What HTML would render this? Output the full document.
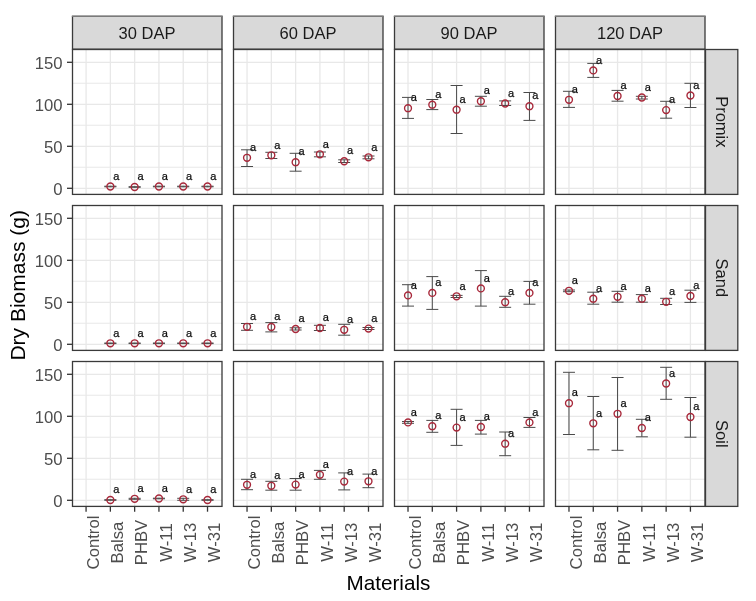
<!DOCTYPE html><html><head><meta charset="utf-8"><style>html,body{margin:0;padding:0;background:#fff;}svg{display:block;filter:blur(0.3px);}text{font-family:"Liberation Sans",sans-serif;}</style></head><body>
<svg width="756" height="601" viewBox="0 0 756 601">
<rect width="756" height="601" fill="#fff"/>
<line x1="72" x2="222" y1="167.30" y2="167.30" stroke="#e8e8e8" stroke-width="1.1"/>
<line x1="72" x2="222" y1="125.30" y2="125.30" stroke="#e8e8e8" stroke-width="1.1"/>
<line x1="72" x2="222" y1="83.30" y2="83.30" stroke="#e8e8e8" stroke-width="1.1"/>
<line x1="72" x2="222" y1="188.30" y2="188.30" stroke="#e8e8e8" stroke-width="1.3"/>
<line x1="72" x2="222" y1="146.30" y2="146.30" stroke="#e8e8e8" stroke-width="1.3"/>
<line x1="72" x2="222" y1="104.30" y2="104.30" stroke="#e8e8e8" stroke-width="1.3"/>
<line x1="72" x2="222" y1="62.30" y2="62.30" stroke="#e8e8e8" stroke-width="1.3"/>
<line x1="86.07" x2="86.07" y1="49" y2="194" stroke="#e8e8e8" stroke-width="1.3"/>
<line x1="110.36" x2="110.36" y1="49" y2="194" stroke="#e8e8e8" stroke-width="1.3"/>
<line x1="134.65" x2="134.65" y1="49" y2="194" stroke="#e8e8e8" stroke-width="1.3"/>
<line x1="158.94" x2="158.94" y1="49" y2="194" stroke="#e8e8e8" stroke-width="1.3"/>
<line x1="183.23" x2="183.23" y1="49" y2="194" stroke="#e8e8e8" stroke-width="1.3"/>
<line x1="207.52" x2="207.52" y1="49" y2="194" stroke="#e8e8e8" stroke-width="1.3"/>
<path d="M104.36 186.20H116.36M110.36 186.20V186.80M104.36 186.80H116.36" stroke="#4a4a4a" stroke-width="1.0" fill="none"/>
<circle cx="110.36" cy="186.50" r="3.45" fill="none" stroke="#a8283a" stroke-width="1.4"/>
<text x="116.26" y="179.70" font-size="11.0" fill="#111111" stroke="#111111" stroke-width="0.25" font-weight="normal" text-anchor="middle">a</text>
<path d="M128.65 186.70H140.65M134.65 186.70V187.30M128.65 187.30H140.65" stroke="#4a4a4a" stroke-width="1.0" fill="none"/>
<circle cx="134.65" cy="187.00" r="3.45" fill="none" stroke="#a8283a" stroke-width="1.4"/>
<text x="140.55" y="180.20" font-size="11.0" fill="#111111" stroke="#111111" stroke-width="0.25" font-weight="normal" text-anchor="middle">a</text>
<path d="M152.94 186.20H164.94M158.94 186.20V186.80M152.94 186.80H164.94" stroke="#4a4a4a" stroke-width="1.0" fill="none"/>
<circle cx="158.94" cy="186.50" r="3.45" fill="none" stroke="#a8283a" stroke-width="1.4"/>
<text x="164.84" y="179.70" font-size="11.0" fill="#111111" stroke="#111111" stroke-width="0.25" font-weight="normal" text-anchor="middle">a</text>
<path d="M177.23 186.20H189.23M183.23 186.20V186.80M177.23 186.80H189.23" stroke="#4a4a4a" stroke-width="1.0" fill="none"/>
<circle cx="183.23" cy="186.50" r="3.45" fill="none" stroke="#a8283a" stroke-width="1.4"/>
<text x="189.13" y="179.70" font-size="11.0" fill="#111111" stroke="#111111" stroke-width="0.25" font-weight="normal" text-anchor="middle">a</text>
<path d="M201.52 186.20H213.52M207.52 186.20V186.80M201.52 186.80H213.52" stroke="#4a4a4a" stroke-width="1.0" fill="none"/>
<circle cx="207.52" cy="186.50" r="3.45" fill="none" stroke="#a8283a" stroke-width="1.4"/>
<text x="213.42" y="179.70" font-size="11.0" fill="#111111" stroke="#111111" stroke-width="0.25" font-weight="normal" text-anchor="middle">a</text>
<rect x="72.5" y="49.5" width="149.5" height="144.9" fill="none" stroke="#3a3a3a" stroke-width="1.3"/>
<line x1="233" x2="383" y1="167.30" y2="167.30" stroke="#e8e8e8" stroke-width="1.1"/>
<line x1="233" x2="383" y1="125.30" y2="125.30" stroke="#e8e8e8" stroke-width="1.1"/>
<line x1="233" x2="383" y1="83.30" y2="83.30" stroke="#e8e8e8" stroke-width="1.1"/>
<line x1="233" x2="383" y1="188.30" y2="188.30" stroke="#e8e8e8" stroke-width="1.3"/>
<line x1="233" x2="383" y1="146.30" y2="146.30" stroke="#e8e8e8" stroke-width="1.3"/>
<line x1="233" x2="383" y1="104.30" y2="104.30" stroke="#e8e8e8" stroke-width="1.3"/>
<line x1="233" x2="383" y1="62.30" y2="62.30" stroke="#e8e8e8" stroke-width="1.3"/>
<line x1="247.04" x2="247.04" y1="49" y2="194" stroke="#e8e8e8" stroke-width="1.3"/>
<line x1="271.33" x2="271.33" y1="49" y2="194" stroke="#e8e8e8" stroke-width="1.3"/>
<line x1="295.62" x2="295.62" y1="49" y2="194" stroke="#e8e8e8" stroke-width="1.3"/>
<line x1="319.91" x2="319.91" y1="49" y2="194" stroke="#e8e8e8" stroke-width="1.3"/>
<line x1="344.20" x2="344.20" y1="49" y2="194" stroke="#e8e8e8" stroke-width="1.3"/>
<line x1="368.49" x2="368.49" y1="49" y2="194" stroke="#e8e8e8" stroke-width="1.3"/>
<path d="M241.04 149.80H253.04M247.04 149.80V166.50M241.04 166.50H253.04" stroke="#4a4a4a" stroke-width="1.0" fill="none"/>
<circle cx="247.04" cy="157.80" r="3.45" fill="none" stroke="#a8283a" stroke-width="1.4"/>
<text x="252.94" y="151.00" font-size="11.0" fill="#111111" stroke="#111111" stroke-width="0.25" font-weight="normal" text-anchor="middle">a</text>
<path d="M265.33 152.30H277.33M271.33 152.30V158.50M265.33 158.50H277.33" stroke="#4a4a4a" stroke-width="1.0" fill="none"/>
<circle cx="271.33" cy="155.30" r="3.45" fill="none" stroke="#a8283a" stroke-width="1.4"/>
<text x="277.23" y="148.50" font-size="11.0" fill="#111111" stroke="#111111" stroke-width="0.25" font-weight="normal" text-anchor="middle">a</text>
<path d="M289.62 153.30H301.62M295.62 153.30V171.20M289.62 171.20H301.62" stroke="#4a4a4a" stroke-width="1.0" fill="none"/>
<circle cx="295.62" cy="162.20" r="3.45" fill="none" stroke="#a8283a" stroke-width="1.4"/>
<text x="301.52" y="155.40" font-size="11.0" fill="#111111" stroke="#111111" stroke-width="0.25" font-weight="normal" text-anchor="middle">a</text>
<path d="M313.91 152.00H325.91M319.91 152.00V156.80M313.91 156.80H325.91" stroke="#4a4a4a" stroke-width="1.0" fill="none"/>
<circle cx="319.91" cy="154.30" r="3.45" fill="none" stroke="#a8283a" stroke-width="1.4"/>
<text x="325.81" y="147.50" font-size="11.0" fill="#111111" stroke="#111111" stroke-width="0.25" font-weight="normal" text-anchor="middle">a</text>
<path d="M338.20 159.80H350.20M344.20 159.80V162.50M338.20 162.50H350.20" stroke="#4a4a4a" stroke-width="1.0" fill="none"/>
<circle cx="344.20" cy="161.25" r="3.45" fill="none" stroke="#a8283a" stroke-width="1.4"/>
<text x="350.10" y="154.45" font-size="11.0" fill="#111111" stroke="#111111" stroke-width="0.25" font-weight="normal" text-anchor="middle">a</text>
<path d="M362.49 156.00H374.49M368.49 156.00V158.80M362.49 158.80H374.49" stroke="#4a4a4a" stroke-width="1.0" fill="none"/>
<circle cx="368.49" cy="157.30" r="3.45" fill="none" stroke="#a8283a" stroke-width="1.4"/>
<text x="374.39" y="150.50" font-size="11.0" fill="#111111" stroke="#111111" stroke-width="0.25" font-weight="normal" text-anchor="middle">a</text>
<rect x="233.5" y="49.5" width="149.5" height="144.9" fill="none" stroke="#3a3a3a" stroke-width="1.3"/>
<line x1="394" x2="544" y1="167.30" y2="167.30" stroke="#e8e8e8" stroke-width="1.1"/>
<line x1="394" x2="544" y1="125.30" y2="125.30" stroke="#e8e8e8" stroke-width="1.1"/>
<line x1="394" x2="544" y1="83.30" y2="83.30" stroke="#e8e8e8" stroke-width="1.1"/>
<line x1="394" x2="544" y1="188.30" y2="188.30" stroke="#e8e8e8" stroke-width="1.3"/>
<line x1="394" x2="544" y1="146.30" y2="146.30" stroke="#e8e8e8" stroke-width="1.3"/>
<line x1="394" x2="544" y1="104.30" y2="104.30" stroke="#e8e8e8" stroke-width="1.3"/>
<line x1="394" x2="544" y1="62.30" y2="62.30" stroke="#e8e8e8" stroke-width="1.3"/>
<line x1="408.01" x2="408.01" y1="49" y2="194" stroke="#e8e8e8" stroke-width="1.3"/>
<line x1="432.30" x2="432.30" y1="49" y2="194" stroke="#e8e8e8" stroke-width="1.3"/>
<line x1="456.59" x2="456.59" y1="49" y2="194" stroke="#e8e8e8" stroke-width="1.3"/>
<line x1="480.88" x2="480.88" y1="49" y2="194" stroke="#e8e8e8" stroke-width="1.3"/>
<line x1="505.17" x2="505.17" y1="49" y2="194" stroke="#e8e8e8" stroke-width="1.3"/>
<line x1="529.46" x2="529.46" y1="49" y2="194" stroke="#e8e8e8" stroke-width="1.3"/>
<path d="M402.01 97.40H414.01M408.01 97.40V118.40M402.01 118.40H414.01" stroke="#4a4a4a" stroke-width="1.0" fill="none"/>
<circle cx="408.01" cy="108.20" r="3.45" fill="none" stroke="#a8283a" stroke-width="1.4"/>
<text x="413.91" y="101.40" font-size="11.0" fill="#111111" stroke="#111111" stroke-width="0.25" font-weight="normal" text-anchor="middle">a</text>
<path d="M426.30 99.50H438.30M432.30 99.50V109.60M426.30 109.60H438.30" stroke="#4a4a4a" stroke-width="1.0" fill="none"/>
<circle cx="432.30" cy="104.70" r="3.45" fill="none" stroke="#a8283a" stroke-width="1.4"/>
<text x="438.20" y="97.90" font-size="11.0" fill="#111111" stroke="#111111" stroke-width="0.25" font-weight="normal" text-anchor="middle">a</text>
<path d="M450.59 85.50H462.59M456.59 85.50V133.50M450.59 133.50H462.59" stroke="#4a4a4a" stroke-width="1.0" fill="none"/>
<circle cx="456.59" cy="109.70" r="3.45" fill="none" stroke="#a8283a" stroke-width="1.4"/>
<text x="462.49" y="102.90" font-size="11.0" fill="#111111" stroke="#111111" stroke-width="0.25" font-weight="normal" text-anchor="middle">a</text>
<path d="M474.88 96.30H486.88M480.88 96.30V106.20M474.88 106.20H486.88" stroke="#4a4a4a" stroke-width="1.0" fill="none"/>
<circle cx="480.88" cy="101.20" r="3.45" fill="none" stroke="#a8283a" stroke-width="1.4"/>
<text x="486.78" y="94.40" font-size="11.0" fill="#111111" stroke="#111111" stroke-width="0.25" font-weight="normal" text-anchor="middle">a</text>
<path d="M499.17 100.90H511.17M505.17 100.90V105.50M499.17 105.50H511.17" stroke="#4a4a4a" stroke-width="1.0" fill="none"/>
<circle cx="505.17" cy="103.50" r="3.45" fill="none" stroke="#a8283a" stroke-width="1.4"/>
<text x="511.07" y="96.70" font-size="11.0" fill="#111111" stroke="#111111" stroke-width="0.25" font-weight="normal" text-anchor="middle">a</text>
<path d="M523.46 92.50H535.46M529.46 92.50V120.40M523.46 120.40H535.46" stroke="#4a4a4a" stroke-width="1.0" fill="none"/>
<circle cx="529.46" cy="106.20" r="3.45" fill="none" stroke="#a8283a" stroke-width="1.4"/>
<text x="535.36" y="99.40" font-size="11.0" fill="#111111" stroke="#111111" stroke-width="0.25" font-weight="normal" text-anchor="middle">a</text>
<rect x="394.5" y="49.5" width="149.5" height="144.9" fill="none" stroke="#3a3a3a" stroke-width="1.3"/>
<line x1="555" x2="705" y1="167.30" y2="167.30" stroke="#e8e8e8" stroke-width="1.1"/>
<line x1="555" x2="705" y1="125.30" y2="125.30" stroke="#e8e8e8" stroke-width="1.1"/>
<line x1="555" x2="705" y1="83.30" y2="83.30" stroke="#e8e8e8" stroke-width="1.1"/>
<line x1="555" x2="705" y1="188.30" y2="188.30" stroke="#e8e8e8" stroke-width="1.3"/>
<line x1="555" x2="705" y1="146.30" y2="146.30" stroke="#e8e8e8" stroke-width="1.3"/>
<line x1="555" x2="705" y1="104.30" y2="104.30" stroke="#e8e8e8" stroke-width="1.3"/>
<line x1="555" x2="705" y1="62.30" y2="62.30" stroke="#e8e8e8" stroke-width="1.3"/>
<line x1="568.98" x2="568.98" y1="49" y2="194" stroke="#e8e8e8" stroke-width="1.3"/>
<line x1="593.27" x2="593.27" y1="49" y2="194" stroke="#e8e8e8" stroke-width="1.3"/>
<line x1="617.56" x2="617.56" y1="49" y2="194" stroke="#e8e8e8" stroke-width="1.3"/>
<line x1="641.85" x2="641.85" y1="49" y2="194" stroke="#e8e8e8" stroke-width="1.3"/>
<line x1="666.14" x2="666.14" y1="49" y2="194" stroke="#e8e8e8" stroke-width="1.3"/>
<line x1="690.43" x2="690.43" y1="49" y2="194" stroke="#e8e8e8" stroke-width="1.3"/>
<path d="M562.98 91.30H574.98M568.98 91.30V107.40M562.98 107.40H574.98" stroke="#4a4a4a" stroke-width="1.0" fill="none"/>
<circle cx="568.98" cy="99.80" r="3.45" fill="none" stroke="#a8283a" stroke-width="1.4"/>
<text x="574.88" y="93.00" font-size="11.0" fill="#111111" stroke="#111111" stroke-width="0.25" font-weight="normal" text-anchor="middle">a</text>
<path d="M587.27 63.40H599.27M593.27 63.40V77.40M587.27 77.40H599.27" stroke="#4a4a4a" stroke-width="1.0" fill="none"/>
<circle cx="593.27" cy="70.40" r="3.45" fill="none" stroke="#a8283a" stroke-width="1.4"/>
<text x="599.17" y="63.60" font-size="11.0" fill="#111111" stroke="#111111" stroke-width="0.25" font-weight="normal" text-anchor="middle">a</text>
<path d="M611.56 90.40H623.56M617.56 90.40V101.20M611.56 101.20H623.56" stroke="#4a4a4a" stroke-width="1.0" fill="none"/>
<circle cx="617.56" cy="96.00" r="3.45" fill="none" stroke="#a8283a" stroke-width="1.4"/>
<text x="623.46" y="89.20" font-size="11.0" fill="#111111" stroke="#111111" stroke-width="0.25" font-weight="normal" text-anchor="middle">a</text>
<path d="M635.85 96.30H647.85M641.85 96.30V99.00M635.85 99.00H647.85" stroke="#4a4a4a" stroke-width="1.0" fill="none"/>
<circle cx="641.85" cy="97.50" r="3.45" fill="none" stroke="#a8283a" stroke-width="1.4"/>
<text x="647.75" y="90.70" font-size="11.0" fill="#111111" stroke="#111111" stroke-width="0.25" font-weight="normal" text-anchor="middle">a</text>
<path d="M660.14 101.30H672.14M666.14 101.30V118.20M660.14 118.20H672.14" stroke="#4a4a4a" stroke-width="1.0" fill="none"/>
<circle cx="666.14" cy="110.10" r="3.45" fill="none" stroke="#a8283a" stroke-width="1.4"/>
<text x="672.04" y="103.30" font-size="11.0" fill="#111111" stroke="#111111" stroke-width="0.25" font-weight="normal" text-anchor="middle">a</text>
<path d="M684.43 83.30H696.43M690.43 83.30V107.50M684.43 107.50H696.43" stroke="#4a4a4a" stroke-width="1.0" fill="none"/>
<circle cx="690.43" cy="95.50" r="3.45" fill="none" stroke="#a8283a" stroke-width="1.4"/>
<text x="696.33" y="88.70" font-size="11.0" fill="#111111" stroke="#111111" stroke-width="0.25" font-weight="normal" text-anchor="middle">a</text>
<rect x="555.5" y="49.5" width="149.5" height="144.9" fill="none" stroke="#3a3a3a" stroke-width="1.3"/>
<line x1="72" x2="222" y1="323.30" y2="323.30" stroke="#e8e8e8" stroke-width="1.1"/>
<line x1="72" x2="222" y1="281.30" y2="281.30" stroke="#e8e8e8" stroke-width="1.1"/>
<line x1="72" x2="222" y1="239.30" y2="239.30" stroke="#e8e8e8" stroke-width="1.1"/>
<line x1="72" x2="222" y1="344.30" y2="344.30" stroke="#e8e8e8" stroke-width="1.3"/>
<line x1="72" x2="222" y1="302.30" y2="302.30" stroke="#e8e8e8" stroke-width="1.3"/>
<line x1="72" x2="222" y1="260.30" y2="260.30" stroke="#e8e8e8" stroke-width="1.3"/>
<line x1="72" x2="222" y1="218.30" y2="218.30" stroke="#e8e8e8" stroke-width="1.3"/>
<line x1="86.07" x2="86.07" y1="205" y2="350" stroke="#e8e8e8" stroke-width="1.3"/>
<line x1="110.36" x2="110.36" y1="205" y2="350" stroke="#e8e8e8" stroke-width="1.3"/>
<line x1="134.65" x2="134.65" y1="205" y2="350" stroke="#e8e8e8" stroke-width="1.3"/>
<line x1="158.94" x2="158.94" y1="205" y2="350" stroke="#e8e8e8" stroke-width="1.3"/>
<line x1="183.23" x2="183.23" y1="205" y2="350" stroke="#e8e8e8" stroke-width="1.3"/>
<line x1="207.52" x2="207.52" y1="205" y2="350" stroke="#e8e8e8" stroke-width="1.3"/>
<path d="M104.36 343.00H116.36M110.36 343.00V343.60M104.36 343.60H116.36" stroke="#4a4a4a" stroke-width="1.0" fill="none"/>
<circle cx="110.36" cy="343.30" r="3.45" fill="none" stroke="#a8283a" stroke-width="1.4"/>
<text x="116.26" y="336.50" font-size="11.0" fill="#111111" stroke="#111111" stroke-width="0.25" font-weight="normal" text-anchor="middle">a</text>
<path d="M128.65 343.00H140.65M134.65 343.00V343.60M128.65 343.60H140.65" stroke="#4a4a4a" stroke-width="1.0" fill="none"/>
<circle cx="134.65" cy="343.30" r="3.45" fill="none" stroke="#a8283a" stroke-width="1.4"/>
<text x="140.55" y="336.50" font-size="11.0" fill="#111111" stroke="#111111" stroke-width="0.25" font-weight="normal" text-anchor="middle">a</text>
<path d="M152.94 343.00H164.94M158.94 343.00V343.60M152.94 343.60H164.94" stroke="#4a4a4a" stroke-width="1.0" fill="none"/>
<circle cx="158.94" cy="343.30" r="3.45" fill="none" stroke="#a8283a" stroke-width="1.4"/>
<text x="164.84" y="336.50" font-size="11.0" fill="#111111" stroke="#111111" stroke-width="0.25" font-weight="normal" text-anchor="middle">a</text>
<path d="M177.23 343.00H189.23M183.23 343.00V343.60M177.23 343.60H189.23" stroke="#4a4a4a" stroke-width="1.0" fill="none"/>
<circle cx="183.23" cy="343.30" r="3.45" fill="none" stroke="#a8283a" stroke-width="1.4"/>
<text x="189.13" y="336.50" font-size="11.0" fill="#111111" stroke="#111111" stroke-width="0.25" font-weight="normal" text-anchor="middle">a</text>
<path d="M201.52 343.00H213.52M207.52 343.00V343.60M201.52 343.60H213.52" stroke="#4a4a4a" stroke-width="1.0" fill="none"/>
<circle cx="207.52" cy="343.30" r="3.45" fill="none" stroke="#a8283a" stroke-width="1.4"/>
<text x="213.42" y="336.50" font-size="11.0" fill="#111111" stroke="#111111" stroke-width="0.25" font-weight="normal" text-anchor="middle">a</text>
<rect x="72.5" y="205.5" width="149.5" height="144.9" fill="none" stroke="#3a3a3a" stroke-width="1.3"/>
<line x1="233" x2="383" y1="323.30" y2="323.30" stroke="#e8e8e8" stroke-width="1.1"/>
<line x1="233" x2="383" y1="281.30" y2="281.30" stroke="#e8e8e8" stroke-width="1.1"/>
<line x1="233" x2="383" y1="239.30" y2="239.30" stroke="#e8e8e8" stroke-width="1.1"/>
<line x1="233" x2="383" y1="344.30" y2="344.30" stroke="#e8e8e8" stroke-width="1.3"/>
<line x1="233" x2="383" y1="302.30" y2="302.30" stroke="#e8e8e8" stroke-width="1.3"/>
<line x1="233" x2="383" y1="260.30" y2="260.30" stroke="#e8e8e8" stroke-width="1.3"/>
<line x1="233" x2="383" y1="218.30" y2="218.30" stroke="#e8e8e8" stroke-width="1.3"/>
<line x1="247.04" x2="247.04" y1="205" y2="350" stroke="#e8e8e8" stroke-width="1.3"/>
<line x1="271.33" x2="271.33" y1="205" y2="350" stroke="#e8e8e8" stroke-width="1.3"/>
<line x1="295.62" x2="295.62" y1="205" y2="350" stroke="#e8e8e8" stroke-width="1.3"/>
<line x1="319.91" x2="319.91" y1="205" y2="350" stroke="#e8e8e8" stroke-width="1.3"/>
<line x1="344.20" x2="344.20" y1="205" y2="350" stroke="#e8e8e8" stroke-width="1.3"/>
<line x1="368.49" x2="368.49" y1="205" y2="350" stroke="#e8e8e8" stroke-width="1.3"/>
<path d="M241.04 323.50H253.04M247.04 323.50V330.30M241.04 330.30H253.04" stroke="#4a4a4a" stroke-width="1.0" fill="none"/>
<circle cx="247.04" cy="326.80" r="3.45" fill="none" stroke="#a8283a" stroke-width="1.4"/>
<text x="252.94" y="320.00" font-size="11.0" fill="#111111" stroke="#111111" stroke-width="0.25" font-weight="normal" text-anchor="middle">a</text>
<path d="M265.33 322.60H277.33M271.33 322.60V331.90M265.33 331.90H277.33" stroke="#4a4a4a" stroke-width="1.0" fill="none"/>
<circle cx="271.33" cy="327.00" r="3.45" fill="none" stroke="#a8283a" stroke-width="1.4"/>
<text x="277.23" y="320.20" font-size="11.0" fill="#111111" stroke="#111111" stroke-width="0.25" font-weight="normal" text-anchor="middle">a</text>
<path d="M289.62 327.80H301.62M295.62 327.80V330.00M289.62 330.00H301.62" stroke="#4a4a4a" stroke-width="1.0" fill="none"/>
<circle cx="295.62" cy="329.00" r="3.45" fill="none" stroke="#a8283a" stroke-width="1.4"/>
<text x="301.52" y="322.20" font-size="11.0" fill="#111111" stroke="#111111" stroke-width="0.25" font-weight="normal" text-anchor="middle">a</text>
<path d="M313.91 325.30H325.91M319.91 325.30V330.50M313.91 330.50H325.91" stroke="#4a4a4a" stroke-width="1.0" fill="none"/>
<circle cx="319.91" cy="328.00" r="3.45" fill="none" stroke="#a8283a" stroke-width="1.4"/>
<text x="325.81" y="321.20" font-size="11.0" fill="#111111" stroke="#111111" stroke-width="0.25" font-weight="normal" text-anchor="middle">a</text>
<path d="M338.20 324.30H350.20M344.20 324.30V335.20M338.20 335.20H350.20" stroke="#4a4a4a" stroke-width="1.0" fill="none"/>
<circle cx="344.20" cy="329.80" r="3.45" fill="none" stroke="#a8283a" stroke-width="1.4"/>
<text x="350.10" y="323.00" font-size="11.0" fill="#111111" stroke="#111111" stroke-width="0.25" font-weight="normal" text-anchor="middle">a</text>
<path d="M362.49 327.50H374.49M368.49 327.50V329.50M362.49 329.50H374.49" stroke="#4a4a4a" stroke-width="1.0" fill="none"/>
<circle cx="368.49" cy="328.60" r="3.45" fill="none" stroke="#a8283a" stroke-width="1.4"/>
<text x="374.39" y="321.80" font-size="11.0" fill="#111111" stroke="#111111" stroke-width="0.25" font-weight="normal" text-anchor="middle">a</text>
<rect x="233.5" y="205.5" width="149.5" height="144.9" fill="none" stroke="#3a3a3a" stroke-width="1.3"/>
<line x1="394" x2="544" y1="323.30" y2="323.30" stroke="#e8e8e8" stroke-width="1.1"/>
<line x1="394" x2="544" y1="281.30" y2="281.30" stroke="#e8e8e8" stroke-width="1.1"/>
<line x1="394" x2="544" y1="239.30" y2="239.30" stroke="#e8e8e8" stroke-width="1.1"/>
<line x1="394" x2="544" y1="344.30" y2="344.30" stroke="#e8e8e8" stroke-width="1.3"/>
<line x1="394" x2="544" y1="302.30" y2="302.30" stroke="#e8e8e8" stroke-width="1.3"/>
<line x1="394" x2="544" y1="260.30" y2="260.30" stroke="#e8e8e8" stroke-width="1.3"/>
<line x1="394" x2="544" y1="218.30" y2="218.30" stroke="#e8e8e8" stroke-width="1.3"/>
<line x1="408.01" x2="408.01" y1="205" y2="350" stroke="#e8e8e8" stroke-width="1.3"/>
<line x1="432.30" x2="432.30" y1="205" y2="350" stroke="#e8e8e8" stroke-width="1.3"/>
<line x1="456.59" x2="456.59" y1="205" y2="350" stroke="#e8e8e8" stroke-width="1.3"/>
<line x1="480.88" x2="480.88" y1="205" y2="350" stroke="#e8e8e8" stroke-width="1.3"/>
<line x1="505.17" x2="505.17" y1="205" y2="350" stroke="#e8e8e8" stroke-width="1.3"/>
<line x1="529.46" x2="529.46" y1="205" y2="350" stroke="#e8e8e8" stroke-width="1.3"/>
<path d="M402.01 284.70H414.01M408.01 284.70V306.10M402.01 306.10H414.01" stroke="#4a4a4a" stroke-width="1.0" fill="none"/>
<circle cx="408.01" cy="295.40" r="3.45" fill="none" stroke="#a8283a" stroke-width="1.4"/>
<text x="413.91" y="288.60" font-size="11.0" fill="#111111" stroke="#111111" stroke-width="0.25" font-weight="normal" text-anchor="middle">a</text>
<path d="M426.30 276.60H438.30M432.30 276.60V309.40M426.30 309.40H438.30" stroke="#4a4a4a" stroke-width="1.0" fill="none"/>
<circle cx="432.30" cy="292.90" r="3.45" fill="none" stroke="#a8283a" stroke-width="1.4"/>
<text x="438.20" y="286.10" font-size="11.0" fill="#111111" stroke="#111111" stroke-width="0.25" font-weight="normal" text-anchor="middle">a</text>
<path d="M450.59 295.40H462.59M456.59 295.40V297.50M450.59 297.50H462.59" stroke="#4a4a4a" stroke-width="1.0" fill="none"/>
<circle cx="456.59" cy="296.30" r="3.45" fill="none" stroke="#a8283a" stroke-width="1.4"/>
<text x="462.49" y="289.50" font-size="11.0" fill="#111111" stroke="#111111" stroke-width="0.25" font-weight="normal" text-anchor="middle">a</text>
<path d="M474.88 270.60H486.88M480.88 270.60V306.10M474.88 306.10H486.88" stroke="#4a4a4a" stroke-width="1.0" fill="none"/>
<circle cx="480.88" cy="288.40" r="3.45" fill="none" stroke="#a8283a" stroke-width="1.4"/>
<text x="486.78" y="281.60" font-size="11.0" fill="#111111" stroke="#111111" stroke-width="0.25" font-weight="normal" text-anchor="middle">a</text>
<path d="M499.17 296.30H511.17M505.17 296.30V307.30M499.17 307.30H511.17" stroke="#4a4a4a" stroke-width="1.0" fill="none"/>
<circle cx="505.17" cy="302.20" r="3.45" fill="none" stroke="#a8283a" stroke-width="1.4"/>
<text x="511.07" y="295.40" font-size="11.0" fill="#111111" stroke="#111111" stroke-width="0.25" font-weight="normal" text-anchor="middle">a</text>
<path d="M523.46 281.40H535.46M529.46 281.40V304.20M523.46 304.20H535.46" stroke="#4a4a4a" stroke-width="1.0" fill="none"/>
<circle cx="529.46" cy="292.90" r="3.45" fill="none" stroke="#a8283a" stroke-width="1.4"/>
<text x="535.36" y="286.10" font-size="11.0" fill="#111111" stroke="#111111" stroke-width="0.25" font-weight="normal" text-anchor="middle">a</text>
<rect x="394.5" y="205.5" width="149.5" height="144.9" fill="none" stroke="#3a3a3a" stroke-width="1.3"/>
<line x1="555" x2="705" y1="323.30" y2="323.30" stroke="#e8e8e8" stroke-width="1.1"/>
<line x1="555" x2="705" y1="281.30" y2="281.30" stroke="#e8e8e8" stroke-width="1.1"/>
<line x1="555" x2="705" y1="239.30" y2="239.30" stroke="#e8e8e8" stroke-width="1.1"/>
<line x1="555" x2="705" y1="344.30" y2="344.30" stroke="#e8e8e8" stroke-width="1.3"/>
<line x1="555" x2="705" y1="302.30" y2="302.30" stroke="#e8e8e8" stroke-width="1.3"/>
<line x1="555" x2="705" y1="260.30" y2="260.30" stroke="#e8e8e8" stroke-width="1.3"/>
<line x1="555" x2="705" y1="218.30" y2="218.30" stroke="#e8e8e8" stroke-width="1.3"/>
<line x1="568.98" x2="568.98" y1="205" y2="350" stroke="#e8e8e8" stroke-width="1.3"/>
<line x1="593.27" x2="593.27" y1="205" y2="350" stroke="#e8e8e8" stroke-width="1.3"/>
<line x1="617.56" x2="617.56" y1="205" y2="350" stroke="#e8e8e8" stroke-width="1.3"/>
<line x1="641.85" x2="641.85" y1="205" y2="350" stroke="#e8e8e8" stroke-width="1.3"/>
<line x1="666.14" x2="666.14" y1="205" y2="350" stroke="#e8e8e8" stroke-width="1.3"/>
<line x1="690.43" x2="690.43" y1="205" y2="350" stroke="#e8e8e8" stroke-width="1.3"/>
<path d="M562.98 290.00H574.98M568.98 290.00V291.70M562.98 291.70H574.98" stroke="#4a4a4a" stroke-width="1.0" fill="none"/>
<circle cx="568.98" cy="290.80" r="3.45" fill="none" stroke="#a8283a" stroke-width="1.4"/>
<text x="574.88" y="284.00" font-size="11.0" fill="#111111" stroke="#111111" stroke-width="0.25" font-weight="normal" text-anchor="middle">a</text>
<path d="M587.27 292.20H599.27M593.27 292.20V304.20M587.27 304.20H599.27" stroke="#4a4a4a" stroke-width="1.0" fill="none"/>
<circle cx="593.27" cy="298.70" r="3.45" fill="none" stroke="#a8283a" stroke-width="1.4"/>
<text x="599.17" y="291.90" font-size="11.0" fill="#111111" stroke="#111111" stroke-width="0.25" font-weight="normal" text-anchor="middle">a</text>
<path d="M611.56 291.30H623.56M617.56 291.30V302.20M611.56 302.20H623.56" stroke="#4a4a4a" stroke-width="1.0" fill="none"/>
<circle cx="617.56" cy="296.80" r="3.45" fill="none" stroke="#a8283a" stroke-width="1.4"/>
<text x="623.46" y="290.00" font-size="11.0" fill="#111111" stroke="#111111" stroke-width="0.25" font-weight="normal" text-anchor="middle">a</text>
<path d="M635.85 294.60H647.85M641.85 294.60V302.20M635.85 302.20H647.85" stroke="#4a4a4a" stroke-width="1.0" fill="none"/>
<circle cx="641.85" cy="298.70" r="3.45" fill="none" stroke="#a8283a" stroke-width="1.4"/>
<text x="647.75" y="291.90" font-size="11.0" fill="#111111" stroke="#111111" stroke-width="0.25" font-weight="normal" text-anchor="middle">a</text>
<path d="M660.14 298.30H672.14M666.14 298.30V304.50M660.14 304.50H672.14" stroke="#4a4a4a" stroke-width="1.0" fill="none"/>
<circle cx="666.14" cy="301.80" r="3.45" fill="none" stroke="#a8283a" stroke-width="1.4"/>
<text x="672.04" y="295.00" font-size="11.0" fill="#111111" stroke="#111111" stroke-width="0.25" font-weight="normal" text-anchor="middle">a</text>
<path d="M684.43 290.20H696.43M690.43 290.20V302.40M684.43 302.40H696.43" stroke="#4a4a4a" stroke-width="1.0" fill="none"/>
<circle cx="690.43" cy="296.00" r="3.45" fill="none" stroke="#a8283a" stroke-width="1.4"/>
<text x="696.33" y="289.20" font-size="11.0" fill="#111111" stroke="#111111" stroke-width="0.25" font-weight="normal" text-anchor="middle">a</text>
<rect x="555.5" y="205.5" width="149.5" height="144.9" fill="none" stroke="#3a3a3a" stroke-width="1.3"/>
<line x1="72" x2="222" y1="479.30" y2="479.30" stroke="#e8e8e8" stroke-width="1.1"/>
<line x1="72" x2="222" y1="437.30" y2="437.30" stroke="#e8e8e8" stroke-width="1.1"/>
<line x1="72" x2="222" y1="395.30" y2="395.30" stroke="#e8e8e8" stroke-width="1.1"/>
<line x1="72" x2="222" y1="500.30" y2="500.30" stroke="#e8e8e8" stroke-width="1.3"/>
<line x1="72" x2="222" y1="458.30" y2="458.30" stroke="#e8e8e8" stroke-width="1.3"/>
<line x1="72" x2="222" y1="416.30" y2="416.30" stroke="#e8e8e8" stroke-width="1.3"/>
<line x1="72" x2="222" y1="374.30" y2="374.30" stroke="#e8e8e8" stroke-width="1.3"/>
<line x1="86.07" x2="86.07" y1="361" y2="506" stroke="#e8e8e8" stroke-width="1.3"/>
<line x1="110.36" x2="110.36" y1="361" y2="506" stroke="#e8e8e8" stroke-width="1.3"/>
<line x1="134.65" x2="134.65" y1="361" y2="506" stroke="#e8e8e8" stroke-width="1.3"/>
<line x1="158.94" x2="158.94" y1="361" y2="506" stroke="#e8e8e8" stroke-width="1.3"/>
<line x1="183.23" x2="183.23" y1="361" y2="506" stroke="#e8e8e8" stroke-width="1.3"/>
<line x1="207.52" x2="207.52" y1="361" y2="506" stroke="#e8e8e8" stroke-width="1.3"/>
<path d="M104.36 499.70H116.36M110.36 499.70V500.30M104.36 500.30H116.36" stroke="#4a4a4a" stroke-width="1.0" fill="none"/>
<circle cx="110.36" cy="500.00" r="3.45" fill="none" stroke="#a8283a" stroke-width="1.4"/>
<text x="116.26" y="493.20" font-size="11.0" fill="#111111" stroke="#111111" stroke-width="0.25" font-weight="normal" text-anchor="middle">a</text>
<path d="M128.65 498.30H140.65M134.65 498.30V499.30M128.65 499.30H140.65" stroke="#4a4a4a" stroke-width="1.0" fill="none"/>
<circle cx="134.65" cy="498.80" r="3.45" fill="none" stroke="#a8283a" stroke-width="1.4"/>
<text x="140.55" y="492.00" font-size="11.0" fill="#111111" stroke="#111111" stroke-width="0.25" font-weight="normal" text-anchor="middle">a</text>
<path d="M152.94 498.20H164.94M158.94 498.20V498.80M152.94 498.80H164.94" stroke="#4a4a4a" stroke-width="1.0" fill="none"/>
<circle cx="158.94" cy="498.50" r="3.45" fill="none" stroke="#a8283a" stroke-width="1.4"/>
<text x="164.84" y="491.70" font-size="11.0" fill="#111111" stroke="#111111" stroke-width="0.25" font-weight="normal" text-anchor="middle">a</text>
<path d="M177.23 498.30H189.23M183.23 498.30V500.30M177.23 500.30H189.23" stroke="#4a4a4a" stroke-width="1.0" fill="none"/>
<circle cx="183.23" cy="499.30" r="3.45" fill="none" stroke="#a8283a" stroke-width="1.4"/>
<text x="189.13" y="492.50" font-size="11.0" fill="#111111" stroke="#111111" stroke-width="0.25" font-weight="normal" text-anchor="middle">a</text>
<path d="M201.52 499.70H213.52M207.52 499.70V500.30M201.52 500.30H213.52" stroke="#4a4a4a" stroke-width="1.0" fill="none"/>
<circle cx="207.52" cy="500.00" r="3.45" fill="none" stroke="#a8283a" stroke-width="1.4"/>
<text x="213.42" y="493.20" font-size="11.0" fill="#111111" stroke="#111111" stroke-width="0.25" font-weight="normal" text-anchor="middle">a</text>
<rect x="72.5" y="361.5" width="149.5" height="144.9" fill="none" stroke="#3a3a3a" stroke-width="1.3"/>
<line x1="233" x2="383" y1="479.30" y2="479.30" stroke="#e8e8e8" stroke-width="1.1"/>
<line x1="233" x2="383" y1="437.30" y2="437.30" stroke="#e8e8e8" stroke-width="1.1"/>
<line x1="233" x2="383" y1="395.30" y2="395.30" stroke="#e8e8e8" stroke-width="1.1"/>
<line x1="233" x2="383" y1="500.30" y2="500.30" stroke="#e8e8e8" stroke-width="1.3"/>
<line x1="233" x2="383" y1="458.30" y2="458.30" stroke="#e8e8e8" stroke-width="1.3"/>
<line x1="233" x2="383" y1="416.30" y2="416.30" stroke="#e8e8e8" stroke-width="1.3"/>
<line x1="233" x2="383" y1="374.30" y2="374.30" stroke="#e8e8e8" stroke-width="1.3"/>
<line x1="247.04" x2="247.04" y1="361" y2="506" stroke="#e8e8e8" stroke-width="1.3"/>
<line x1="271.33" x2="271.33" y1="361" y2="506" stroke="#e8e8e8" stroke-width="1.3"/>
<line x1="295.62" x2="295.62" y1="361" y2="506" stroke="#e8e8e8" stroke-width="1.3"/>
<line x1="319.91" x2="319.91" y1="361" y2="506" stroke="#e8e8e8" stroke-width="1.3"/>
<line x1="344.20" x2="344.20" y1="361" y2="506" stroke="#e8e8e8" stroke-width="1.3"/>
<line x1="368.49" x2="368.49" y1="361" y2="506" stroke="#e8e8e8" stroke-width="1.3"/>
<path d="M241.04 479.30H253.04M247.04 479.30V489.70M241.04 489.70H253.04" stroke="#4a4a4a" stroke-width="1.0" fill="none"/>
<circle cx="247.04" cy="484.80" r="3.45" fill="none" stroke="#a8283a" stroke-width="1.4"/>
<text x="252.94" y="478.00" font-size="11.0" fill="#111111" stroke="#111111" stroke-width="0.25" font-weight="normal" text-anchor="middle">a</text>
<path d="M265.33 481.30H277.33M271.33 481.30V490.20M265.33 490.20H277.33" stroke="#4a4a4a" stroke-width="1.0" fill="none"/>
<circle cx="271.33" cy="485.80" r="3.45" fill="none" stroke="#a8283a" stroke-width="1.4"/>
<text x="277.23" y="479.00" font-size="11.0" fill="#111111" stroke="#111111" stroke-width="0.25" font-weight="normal" text-anchor="middle">a</text>
<path d="M289.62 478.50H301.62M295.62 478.50V490.20M289.62 490.20H301.62" stroke="#4a4a4a" stroke-width="1.0" fill="none"/>
<circle cx="295.62" cy="484.60" r="3.45" fill="none" stroke="#a8283a" stroke-width="1.4"/>
<text x="301.52" y="477.80" font-size="11.0" fill="#111111" stroke="#111111" stroke-width="0.25" font-weight="normal" text-anchor="middle">a</text>
<path d="M313.91 470.40H325.91M319.91 470.40V479.30M313.91 479.30H325.91" stroke="#4a4a4a" stroke-width="1.0" fill="none"/>
<circle cx="319.91" cy="474.80" r="3.45" fill="none" stroke="#a8283a" stroke-width="1.4"/>
<text x="325.81" y="468.00" font-size="11.0" fill="#111111" stroke="#111111" stroke-width="0.25" font-weight="normal" text-anchor="middle">a</text>
<path d="M338.20 472.90H350.20M344.20 472.90V489.90M338.20 489.90H350.20" stroke="#4a4a4a" stroke-width="1.0" fill="none"/>
<circle cx="344.20" cy="481.60" r="3.45" fill="none" stroke="#a8283a" stroke-width="1.4"/>
<text x="350.10" y="474.80" font-size="11.0" fill="#111111" stroke="#111111" stroke-width="0.25" font-weight="normal" text-anchor="middle">a</text>
<path d="M362.49 474.10H374.49M368.49 474.10V487.70M362.49 487.70H374.49" stroke="#4a4a4a" stroke-width="1.0" fill="none"/>
<circle cx="368.49" cy="481.30" r="3.45" fill="none" stroke="#a8283a" stroke-width="1.4"/>
<text x="374.39" y="474.50" font-size="11.0" fill="#111111" stroke="#111111" stroke-width="0.25" font-weight="normal" text-anchor="middle">a</text>
<rect x="233.5" y="361.5" width="149.5" height="144.9" fill="none" stroke="#3a3a3a" stroke-width="1.3"/>
<line x1="394" x2="544" y1="479.30" y2="479.30" stroke="#e8e8e8" stroke-width="1.1"/>
<line x1="394" x2="544" y1="437.30" y2="437.30" stroke="#e8e8e8" stroke-width="1.1"/>
<line x1="394" x2="544" y1="395.30" y2="395.30" stroke="#e8e8e8" stroke-width="1.1"/>
<line x1="394" x2="544" y1="500.30" y2="500.30" stroke="#e8e8e8" stroke-width="1.3"/>
<line x1="394" x2="544" y1="458.30" y2="458.30" stroke="#e8e8e8" stroke-width="1.3"/>
<line x1="394" x2="544" y1="416.30" y2="416.30" stroke="#e8e8e8" stroke-width="1.3"/>
<line x1="394" x2="544" y1="374.30" y2="374.30" stroke="#e8e8e8" stroke-width="1.3"/>
<line x1="408.01" x2="408.01" y1="361" y2="506" stroke="#e8e8e8" stroke-width="1.3"/>
<line x1="432.30" x2="432.30" y1="361" y2="506" stroke="#e8e8e8" stroke-width="1.3"/>
<line x1="456.59" x2="456.59" y1="361" y2="506" stroke="#e8e8e8" stroke-width="1.3"/>
<line x1="480.88" x2="480.88" y1="361" y2="506" stroke="#e8e8e8" stroke-width="1.3"/>
<line x1="505.17" x2="505.17" y1="361" y2="506" stroke="#e8e8e8" stroke-width="1.3"/>
<line x1="529.46" x2="529.46" y1="361" y2="506" stroke="#e8e8e8" stroke-width="1.3"/>
<path d="M402.01 421.50H414.01M408.01 421.50V423.30M402.01 423.30H414.01" stroke="#4a4a4a" stroke-width="1.0" fill="none"/>
<circle cx="408.01" cy="422.40" r="3.45" fill="none" stroke="#a8283a" stroke-width="1.4"/>
<text x="413.91" y="415.60" font-size="11.0" fill="#111111" stroke="#111111" stroke-width="0.25" font-weight="normal" text-anchor="middle">a</text>
<path d="M426.30 420.40H438.30M432.30 420.40V432.30M426.30 432.30H438.30" stroke="#4a4a4a" stroke-width="1.0" fill="none"/>
<circle cx="432.30" cy="426.20" r="3.45" fill="none" stroke="#a8283a" stroke-width="1.4"/>
<text x="438.20" y="419.40" font-size="11.0" fill="#111111" stroke="#111111" stroke-width="0.25" font-weight="normal" text-anchor="middle">a</text>
<path d="M450.59 409.30H462.59M456.59 409.30V445.40M450.59 445.40H462.59" stroke="#4a4a4a" stroke-width="1.0" fill="none"/>
<circle cx="456.59" cy="427.60" r="3.45" fill="none" stroke="#a8283a" stroke-width="1.4"/>
<text x="462.49" y="420.80" font-size="11.0" fill="#111111" stroke="#111111" stroke-width="0.25" font-weight="normal" text-anchor="middle">a</text>
<path d="M474.88 420.40H486.88M480.88 420.40V434.10M474.88 434.10H486.88" stroke="#4a4a4a" stroke-width="1.0" fill="none"/>
<circle cx="480.88" cy="427.00" r="3.45" fill="none" stroke="#a8283a" stroke-width="1.4"/>
<text x="486.78" y="420.20" font-size="11.0" fill="#111111" stroke="#111111" stroke-width="0.25" font-weight="normal" text-anchor="middle">a</text>
<path d="M499.17 432.00H511.17M505.17 432.00V455.70M499.17 455.70H511.17" stroke="#4a4a4a" stroke-width="1.0" fill="none"/>
<circle cx="505.17" cy="443.70" r="3.45" fill="none" stroke="#a8283a" stroke-width="1.4"/>
<text x="511.07" y="436.90" font-size="11.0" fill="#111111" stroke="#111111" stroke-width="0.25" font-weight="normal" text-anchor="middle">a</text>
<path d="M523.46 417.50H535.46M529.46 417.50V427.40M523.46 427.40H535.46" stroke="#4a4a4a" stroke-width="1.0" fill="none"/>
<circle cx="529.46" cy="422.40" r="3.45" fill="none" stroke="#a8283a" stroke-width="1.4"/>
<text x="535.36" y="415.60" font-size="11.0" fill="#111111" stroke="#111111" stroke-width="0.25" font-weight="normal" text-anchor="middle">a</text>
<rect x="394.5" y="361.5" width="149.5" height="144.9" fill="none" stroke="#3a3a3a" stroke-width="1.3"/>
<line x1="555" x2="705" y1="479.30" y2="479.30" stroke="#e8e8e8" stroke-width="1.1"/>
<line x1="555" x2="705" y1="437.30" y2="437.30" stroke="#e8e8e8" stroke-width="1.1"/>
<line x1="555" x2="705" y1="395.30" y2="395.30" stroke="#e8e8e8" stroke-width="1.1"/>
<line x1="555" x2="705" y1="500.30" y2="500.30" stroke="#e8e8e8" stroke-width="1.3"/>
<line x1="555" x2="705" y1="458.30" y2="458.30" stroke="#e8e8e8" stroke-width="1.3"/>
<line x1="555" x2="705" y1="416.30" y2="416.30" stroke="#e8e8e8" stroke-width="1.3"/>
<line x1="555" x2="705" y1="374.30" y2="374.30" stroke="#e8e8e8" stroke-width="1.3"/>
<line x1="568.98" x2="568.98" y1="361" y2="506" stroke="#e8e8e8" stroke-width="1.3"/>
<line x1="593.27" x2="593.27" y1="361" y2="506" stroke="#e8e8e8" stroke-width="1.3"/>
<line x1="617.56" x2="617.56" y1="361" y2="506" stroke="#e8e8e8" stroke-width="1.3"/>
<line x1="641.85" x2="641.85" y1="361" y2="506" stroke="#e8e8e8" stroke-width="1.3"/>
<line x1="666.14" x2="666.14" y1="361" y2="506" stroke="#e8e8e8" stroke-width="1.3"/>
<line x1="690.43" x2="690.43" y1="361" y2="506" stroke="#e8e8e8" stroke-width="1.3"/>
<path d="M562.98 372.30H574.98M568.98 372.30V434.50M562.98 434.50H574.98" stroke="#4a4a4a" stroke-width="1.0" fill="none"/>
<circle cx="568.98" cy="403.20" r="3.45" fill="none" stroke="#a8283a" stroke-width="1.4"/>
<text x="574.88" y="396.40" font-size="11.0" fill="#111111" stroke="#111111" stroke-width="0.25" font-weight="normal" text-anchor="middle">a</text>
<path d="M587.27 396.50H599.27M593.27 396.50V449.80M587.27 449.80H599.27" stroke="#4a4a4a" stroke-width="1.0" fill="none"/>
<circle cx="593.27" cy="423.30" r="3.45" fill="none" stroke="#a8283a" stroke-width="1.4"/>
<text x="599.17" y="416.50" font-size="11.0" fill="#111111" stroke="#111111" stroke-width="0.25" font-weight="normal" text-anchor="middle">a</text>
<path d="M611.56 377.50H623.56M617.56 377.50V450.30M611.56 450.30H623.56" stroke="#4a4a4a" stroke-width="1.0" fill="none"/>
<circle cx="617.56" cy="413.80" r="3.45" fill="none" stroke="#a8283a" stroke-width="1.4"/>
<text x="623.46" y="407.00" font-size="11.0" fill="#111111" stroke="#111111" stroke-width="0.25" font-weight="normal" text-anchor="middle">a</text>
<path d="M635.85 419.30H647.85M641.85 419.30V436.80M635.85 436.80H647.85" stroke="#4a4a4a" stroke-width="1.0" fill="none"/>
<circle cx="641.85" cy="428.00" r="3.45" fill="none" stroke="#a8283a" stroke-width="1.4"/>
<text x="647.75" y="421.20" font-size="11.0" fill="#111111" stroke="#111111" stroke-width="0.25" font-weight="normal" text-anchor="middle">a</text>
<path d="M660.14 367.30H672.14M666.14 367.30V399.30M660.14 399.30H672.14" stroke="#4a4a4a" stroke-width="1.0" fill="none"/>
<circle cx="666.14" cy="383.50" r="3.45" fill="none" stroke="#a8283a" stroke-width="1.4"/>
<text x="672.04" y="376.70" font-size="11.0" fill="#111111" stroke="#111111" stroke-width="0.25" font-weight="normal" text-anchor="middle">a</text>
<path d="M684.43 397.50H696.43M690.43 397.50V437.20M684.43 437.20H696.43" stroke="#4a4a4a" stroke-width="1.0" fill="none"/>
<circle cx="690.43" cy="417.00" r="3.45" fill="none" stroke="#a8283a" stroke-width="1.4"/>
<text x="696.33" y="410.20" font-size="11.0" fill="#111111" stroke="#111111" stroke-width="0.25" font-weight="normal" text-anchor="middle">a</text>
<rect x="555.5" y="361.5" width="149.5" height="144.9" fill="none" stroke="#3a3a3a" stroke-width="1.3"/>
<rect x="72.5" y="16.3" width="149.5" height="32.80" fill="#d9d9d9" stroke="#3a3a3a" stroke-width="1.3"/>
<line x1="71.85" x2="222.65" y1="16.3" y2="16.3" stroke="#7a7a7a" stroke-width="1.3"/>
<text x="147.00" y="38.6" font-size="16.5" fill="#1a1a1a" text-anchor="middle">30 DAP</text>
<rect x="233.5" y="16.3" width="149.5" height="32.80" fill="#d9d9d9" stroke="#3a3a3a" stroke-width="1.3"/>
<line x1="232.85" x2="383.65" y1="16.3" y2="16.3" stroke="#7a7a7a" stroke-width="1.3"/>
<text x="308.00" y="38.6" font-size="16.5" fill="#1a1a1a" text-anchor="middle">60 DAP</text>
<rect x="394.5" y="16.3" width="149.5" height="32.80" fill="#d9d9d9" stroke="#3a3a3a" stroke-width="1.3"/>
<line x1="393.85" x2="544.65" y1="16.3" y2="16.3" stroke="#7a7a7a" stroke-width="1.3"/>
<text x="469.00" y="38.6" font-size="16.5" fill="#1a1a1a" text-anchor="middle">90 DAP</text>
<rect x="555.5" y="16.3" width="149.5" height="32.80" fill="#d9d9d9" stroke="#3a3a3a" stroke-width="1.3"/>
<line x1="554.85" x2="705.65" y1="16.3" y2="16.3" stroke="#7a7a7a" stroke-width="1.3"/>
<text x="630.00" y="38.6" font-size="16.5" fill="#1a1a1a" text-anchor="middle">120 DAP</text>
<rect x="705.5" y="49.5" width="32.3" height="144.9" fill="#d9d9d9" stroke="#3a3a3a" stroke-width="1.3"/>
<text transform="translate(715.5,121.80) rotate(90)" font-size="16.5" fill="#1a1a1a" text-anchor="middle">Promix</text>
<rect x="705.5" y="205.5" width="32.3" height="144.9" fill="#d9d9d9" stroke="#3a3a3a" stroke-width="1.3"/>
<text transform="translate(715.5,277.80) rotate(90)" font-size="16.5" fill="#1a1a1a" text-anchor="middle">Sand</text>
<rect x="705.5" y="361.5" width="32.3" height="144.9" fill="#d9d9d9" stroke="#3a3a3a" stroke-width="1.3"/>
<text transform="translate(715.5,433.80) rotate(90)" font-size="16.5" fill="#1a1a1a" text-anchor="middle">Soil</text>
<line x1="67" x2="72" y1="188.30" y2="188.30" stroke="#333333" stroke-width="1.3"/>
<text x="62.5" y="195.30" font-size="16.7" fill="#4d4d4d" text-anchor="end">0</text>
<line x1="67" x2="72" y1="146.30" y2="146.30" stroke="#333333" stroke-width="1.3"/>
<text x="62.5" y="153.30" font-size="16.7" fill="#4d4d4d" text-anchor="end">50</text>
<line x1="67" x2="72" y1="104.30" y2="104.30" stroke="#333333" stroke-width="1.3"/>
<text x="62.5" y="111.30" font-size="16.7" fill="#4d4d4d" text-anchor="end">100</text>
<line x1="67" x2="72" y1="62.30" y2="62.30" stroke="#333333" stroke-width="1.3"/>
<text x="62.5" y="69.30" font-size="16.7" fill="#4d4d4d" text-anchor="end">150</text>
<line x1="67" x2="72" y1="344.30" y2="344.30" stroke="#333333" stroke-width="1.3"/>
<text x="62.5" y="351.30" font-size="16.7" fill="#4d4d4d" text-anchor="end">0</text>
<line x1="67" x2="72" y1="302.30" y2="302.30" stroke="#333333" stroke-width="1.3"/>
<text x="62.5" y="309.30" font-size="16.7" fill="#4d4d4d" text-anchor="end">50</text>
<line x1="67" x2="72" y1="260.30" y2="260.30" stroke="#333333" stroke-width="1.3"/>
<text x="62.5" y="267.30" font-size="16.7" fill="#4d4d4d" text-anchor="end">100</text>
<line x1="67" x2="72" y1="218.30" y2="218.30" stroke="#333333" stroke-width="1.3"/>
<text x="62.5" y="225.30" font-size="16.7" fill="#4d4d4d" text-anchor="end">150</text>
<line x1="67" x2="72" y1="500.30" y2="500.30" stroke="#333333" stroke-width="1.3"/>
<text x="62.5" y="507.30" font-size="16.7" fill="#4d4d4d" text-anchor="end">0</text>
<line x1="67" x2="72" y1="458.30" y2="458.30" stroke="#333333" stroke-width="1.3"/>
<text x="62.5" y="465.30" font-size="16.7" fill="#4d4d4d" text-anchor="end">50</text>
<line x1="67" x2="72" y1="416.30" y2="416.30" stroke="#333333" stroke-width="1.3"/>
<text x="62.5" y="423.30" font-size="16.7" fill="#4d4d4d" text-anchor="end">100</text>
<line x1="67" x2="72" y1="374.30" y2="374.30" stroke="#333333" stroke-width="1.3"/>
<text x="62.5" y="381.30" font-size="16.7" fill="#4d4d4d" text-anchor="end">150</text>
<line x1="86.07" x2="86.07" y1="506.4" y2="511.7" stroke="#333333" stroke-width="1.3"/>
<text transform="translate(98.87,542.5) rotate(-90)" font-size="16.7" fill="#4d4d4d" text-anchor="middle">Control</text>
<line x1="110.36" x2="110.36" y1="506.4" y2="511.7" stroke="#333333" stroke-width="1.3"/>
<text transform="translate(123.16,542.5) rotate(-90)" font-size="16.7" fill="#4d4d4d" text-anchor="middle">Balsa</text>
<line x1="134.65" x2="134.65" y1="506.4" y2="511.7" stroke="#333333" stroke-width="1.3"/>
<text transform="translate(147.45,542.5) rotate(-90)" font-size="16.7" fill="#4d4d4d" text-anchor="middle">PHBV</text>
<line x1="158.94" x2="158.94" y1="506.4" y2="511.7" stroke="#333333" stroke-width="1.3"/>
<text transform="translate(171.74,542.5) rotate(-90)" font-size="16.7" fill="#4d4d4d" text-anchor="middle">W-11</text>
<line x1="183.23" x2="183.23" y1="506.4" y2="511.7" stroke="#333333" stroke-width="1.3"/>
<text transform="translate(196.03,542.5) rotate(-90)" font-size="16.7" fill="#4d4d4d" text-anchor="middle">W-13</text>
<line x1="207.52" x2="207.52" y1="506.4" y2="511.7" stroke="#333333" stroke-width="1.3"/>
<text transform="translate(220.32,542.5) rotate(-90)" font-size="16.7" fill="#4d4d4d" text-anchor="middle">W-31</text>
<line x1="247.04" x2="247.04" y1="506.4" y2="511.7" stroke="#333333" stroke-width="1.3"/>
<text transform="translate(259.84,542.5) rotate(-90)" font-size="16.7" fill="#4d4d4d" text-anchor="middle">Control</text>
<line x1="271.33" x2="271.33" y1="506.4" y2="511.7" stroke="#333333" stroke-width="1.3"/>
<text transform="translate(284.13,542.5) rotate(-90)" font-size="16.7" fill="#4d4d4d" text-anchor="middle">Balsa</text>
<line x1="295.62" x2="295.62" y1="506.4" y2="511.7" stroke="#333333" stroke-width="1.3"/>
<text transform="translate(308.42,542.5) rotate(-90)" font-size="16.7" fill="#4d4d4d" text-anchor="middle">PHBV</text>
<line x1="319.91" x2="319.91" y1="506.4" y2="511.7" stroke="#333333" stroke-width="1.3"/>
<text transform="translate(332.71,542.5) rotate(-90)" font-size="16.7" fill="#4d4d4d" text-anchor="middle">W-11</text>
<line x1="344.20" x2="344.20" y1="506.4" y2="511.7" stroke="#333333" stroke-width="1.3"/>
<text transform="translate(357.00,542.5) rotate(-90)" font-size="16.7" fill="#4d4d4d" text-anchor="middle">W-13</text>
<line x1="368.49" x2="368.49" y1="506.4" y2="511.7" stroke="#333333" stroke-width="1.3"/>
<text transform="translate(381.29,542.5) rotate(-90)" font-size="16.7" fill="#4d4d4d" text-anchor="middle">W-31</text>
<line x1="408.01" x2="408.01" y1="506.4" y2="511.7" stroke="#333333" stroke-width="1.3"/>
<text transform="translate(420.81,542.5) rotate(-90)" font-size="16.7" fill="#4d4d4d" text-anchor="middle">Control</text>
<line x1="432.30" x2="432.30" y1="506.4" y2="511.7" stroke="#333333" stroke-width="1.3"/>
<text transform="translate(445.10,542.5) rotate(-90)" font-size="16.7" fill="#4d4d4d" text-anchor="middle">Balsa</text>
<line x1="456.59" x2="456.59" y1="506.4" y2="511.7" stroke="#333333" stroke-width="1.3"/>
<text transform="translate(469.39,542.5) rotate(-90)" font-size="16.7" fill="#4d4d4d" text-anchor="middle">PHBV</text>
<line x1="480.88" x2="480.88" y1="506.4" y2="511.7" stroke="#333333" stroke-width="1.3"/>
<text transform="translate(493.68,542.5) rotate(-90)" font-size="16.7" fill="#4d4d4d" text-anchor="middle">W-11</text>
<line x1="505.17" x2="505.17" y1="506.4" y2="511.7" stroke="#333333" stroke-width="1.3"/>
<text transform="translate(517.97,542.5) rotate(-90)" font-size="16.7" fill="#4d4d4d" text-anchor="middle">W-13</text>
<line x1="529.46" x2="529.46" y1="506.4" y2="511.7" stroke="#333333" stroke-width="1.3"/>
<text transform="translate(542.26,542.5) rotate(-90)" font-size="16.7" fill="#4d4d4d" text-anchor="middle">W-31</text>
<line x1="568.98" x2="568.98" y1="506.4" y2="511.7" stroke="#333333" stroke-width="1.3"/>
<text transform="translate(581.78,542.5) rotate(-90)" font-size="16.7" fill="#4d4d4d" text-anchor="middle">Control</text>
<line x1="593.27" x2="593.27" y1="506.4" y2="511.7" stroke="#333333" stroke-width="1.3"/>
<text transform="translate(606.07,542.5) rotate(-90)" font-size="16.7" fill="#4d4d4d" text-anchor="middle">Balsa</text>
<line x1="617.56" x2="617.56" y1="506.4" y2="511.7" stroke="#333333" stroke-width="1.3"/>
<text transform="translate(630.36,542.5) rotate(-90)" font-size="16.7" fill="#4d4d4d" text-anchor="middle">PHBV</text>
<line x1="641.85" x2="641.85" y1="506.4" y2="511.7" stroke="#333333" stroke-width="1.3"/>
<text transform="translate(654.65,542.5) rotate(-90)" font-size="16.7" fill="#4d4d4d" text-anchor="middle">W-11</text>
<line x1="666.14" x2="666.14" y1="506.4" y2="511.7" stroke="#333333" stroke-width="1.3"/>
<text transform="translate(678.94,542.5) rotate(-90)" font-size="16.7" fill="#4d4d4d" text-anchor="middle">W-13</text>
<line x1="690.43" x2="690.43" y1="506.4" y2="511.7" stroke="#333333" stroke-width="1.3"/>
<text transform="translate(703.23,542.5) rotate(-90)" font-size="16.7" fill="#4d4d4d" text-anchor="middle">W-31</text>
<text x="388.4" y="589.8" font-size="20.7" fill="#000" text-anchor="middle">Materials</text>
<text transform="translate(25.1,285.3) rotate(-90)" font-size="21.0" fill="#000" text-anchor="middle">Dry Biomass (g)</text>
</svg></body></html>
